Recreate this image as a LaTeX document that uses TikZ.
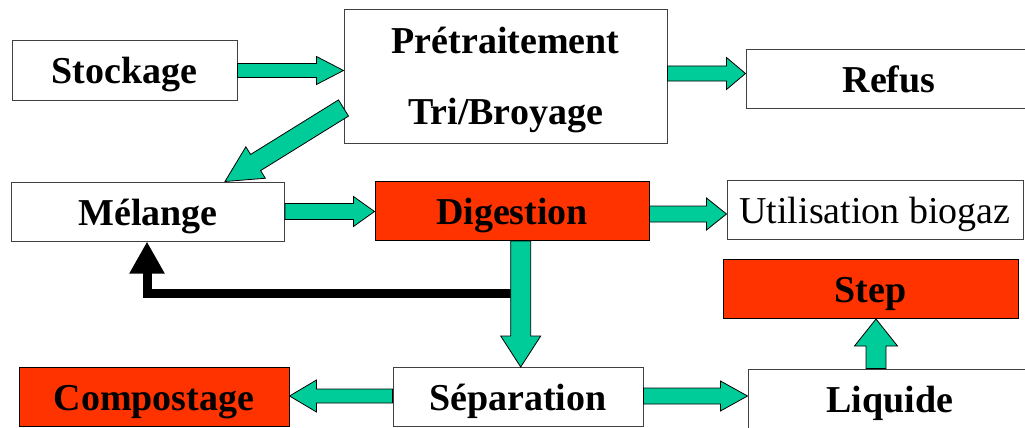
\documentclass[tikz,border=0pt]{standalone}
\usepackage{fontspec}
\setmainfont{Liberation Serif}
\usetikzlibrary{calc,arrows.meta}

\definecolor{flowgreen}{RGB}{0,204,153}
\definecolor{hotred}{RGB}{255,51,0}

\tikzset{
  box/.style={draw=black!75, line width=1pt, minimum height=59pt, inner sep=0pt,
    text height=27pt, text depth=0pt, font=\fontsize{38}{46}\selectfont\bfseries},
  plainbox/.style={box, font=\fontsize{38}{46}\selectfont},
  hot/.style={box, fill=hotred, draw=black},
  flow/.style={fill=flowgreen, draw=black, line width=0.8pt, line join=miter},
  feedback/.style={line width=9pt, -{Triangle[length=32pt,width=33pt]}}
}

% block arrow: shaft half width, head half width, head length, from, to
\newcommand{\flowarrow}[5]{%
  \coordinate (fa-s) at (#4);
  \coordinate (fa-e) at (#5);
  \coordinate (fa-h) at ($(fa-e)!#3!(fa-s)$);
  \filldraw[flow] ($(fa-s)!#1!90:(fa-e)$) -- ($(fa-h)!#1!90:(fa-e)$)
    -- ($(fa-h)!#2!90:(fa-e)$) -- (fa-e) -- ($(fa-h)!#2!-90:(fa-e)$)
    -- ($(fa-h)!#1!-90:(fa-e)$) -- ($(fa-s)!#1!-90:(fa-e)$) -- cycle;
}

\begin{document}
\begin{tikzpicture}[x=1pt, y=-1pt]
  \useasboundingbox (0,0) rectangle (1025,428);

  % boxes
  \foreach \n/\x/\y/\w/\s/\t in {stock/124.5/70.5/225/box/Stockage,
      refus/889/79/286/box/Refus,
      melange/148/211.5/273/box/Mélange,
      digest/512/211/274/hot/Digestion,
      util/875/210/296/plainbox/Utilisation biogaz,
      step/870.5/289/295/hot/Step,
      compost/154/397/270/hot/Compostage,
      separ/518/397/250/box/Séparation,
      liquide/890/398.5/284/box/Liquide}
  {
    \node[\s, minimum width=\w pt] (\n) at (\x,\y) {\t};
  }
  \node[box, minimum width=323pt, minimum height=133pt, text height=95pt,
    align=center] (pretr) at (505.5,76.5) {Prétraitement\\[25pt]Tri/Broyage};

  % return to the mixing
  \draw[feedback] ([yshift=-52pt]digest.south) -| ([xshift=-1pt]melange.south);

  % flows
  \coordinate (pretr-r) at ([yshift=3pt]pretr.east);
  \coordinate (pretr-d) at ([yshift=-31.5pt]pretr.west);
  \coordinate (digest-r) at ([yshift=-3pt]digest.east);
  \coordinate (digest-d) at ([xshift=8.7pt]digest.south);
  \coordinate (separ-l) at ([yshift=1pt]separ.west);
  \coordinate (separ-r) at ([yshift=1pt]separ.east);
  \coordinate (liquide-u) at ([xshift=-14pt]liquide.north);

  \flowarrow{7pt}{14pt}{27pt}{stock.east}{stock.east -| pretr.west}
  \flowarrow{7.5pt}{16pt}{19pt}{pretr-r}{pretr-r -| refus.west}
  \flowarrow{9.5pt}{18.5pt}{36pt}{pretr-d}{[xshift=77pt]melange.north}
  \flowarrow{8pt}{15pt}{21pt}{melange.east}{melange.east -| digest.west}
  \flowarrow{8pt}{16pt}{20pt}{digest-r}{digest-r -| util.west}
  \flowarrow{10pt}{20pt}{31pt}{digest-d}{digest-d |- separ.north}
  \flowarrow{7pt}{16pt}{27pt}{separ-l}{separ-l -| compost.east}
  \flowarrow{8pt}{15pt}{27pt}{separ-r}{separ-r -| liquide.west}
  \flowarrow{10pt}{21.5pt}{27pt}{liquide-u}{liquide-u |- step.south}
\end{tikzpicture}
\end{document}
